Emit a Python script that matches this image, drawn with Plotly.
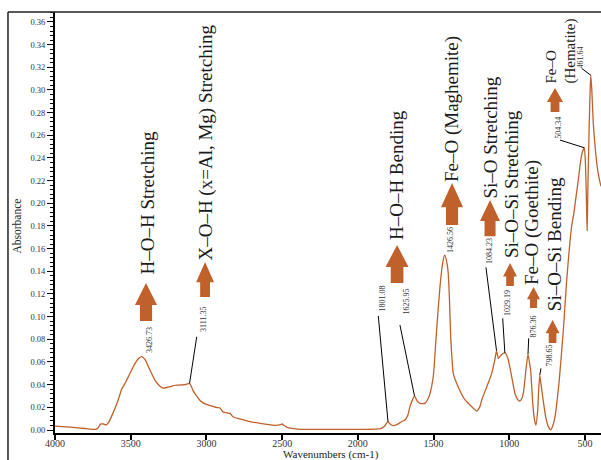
import plotly.graph_objects as go

# FTIR absorbance spectrum (wavenumber in cm-1, descending)
wavenumber = [
    4000, 3900, 3800, 3731, 3715, 3700, 3680, 3663, 3645, 3620, 3584, 3560,
    3530, 3505, 3470, 3445, 3426.73, 3405, 3373, 3340, 3310, 3287, 3260, 3240,
    3200, 3174, 3140, 3111.35, 3089, 3065, 3042, 3009, 2963, 2930, 2910, 2891,
    2860, 2844, 2825, 2780, 2712, 2646, 2600, 2547, 2515, 2501, 2485, 2468,
    2420, 2382, 2200, 2000, 1880, 1850, 1825, 1810, 1801.08, 1785, 1766, 1740,
    1711, 1689, 1670, 1656, 1638, 1625.95, 1610, 1590, 1557, 1535, 1524, 1502,
    1480, 1458, 1440, 1426.56, 1410, 1403, 1395, 1387, 1378, 1370, 1337, 1292,
    1248, 1215, 1194, 1182, 1149, 1116, 1094, 1084.23, 1072, 1055, 1029.19,
    1010, 984, 962, 945, 933, 920, 907, 890, 876.36, 865, 859, 845, 835, 824,
    812, 806, 798.65, 790, 780, 760, 742, 727, 712, 698, 670, 643, 621, 600,
    588, 575, 560, 544, 530, 518, 504.34, 497, 490, 486, 480, 472, 466, 461.64,
    455, 445, 430, 415, 400, 394,
]
absorbance = [
    0.0035, 0.0025, 0.0013, 0.0005, 0.0020, 0.0052, 0.0053, 0.0045, 0.0070,
    0.0140, 0.0260, 0.0360, 0.0430, 0.0500, 0.0590, 0.0635, 0.0647, 0.0620,
    0.0529, 0.0440, 0.0390, 0.0370, 0.0375, 0.0382, 0.0395, 0.0397, 0.0400,
    0.0412, 0.0350, 0.0300, 0.0260, 0.0230, 0.0210, 0.0198, 0.0194, 0.0160,
    0.0150, 0.0147, 0.0117, 0.0098, 0.0073, 0.0059, 0.0050, 0.0041, 0.0045,
    0.0053, 0.0038, 0.0024, 0.0012, 0.0006, 0.0005, 0.0005, 0.0007, 0.0012,
    0.0030, 0.0060, 0.0075, 0.0050, 0.0038, 0.0050, 0.0073, 0.0088, 0.0130,
    0.0206, 0.0270, 0.0300, 0.0260, 0.0235, 0.0235, 0.0280, 0.0320, 0.0470,
    0.0880, 0.1260, 0.1470, 0.1544, 0.1460, 0.1380, 0.1150, 0.0820, 0.0620,
    0.0500, 0.0380, 0.0265, 0.0206, 0.0168, 0.0206, 0.0265, 0.0380, 0.0500,
    0.0630, 0.0700, 0.0630, 0.0660, 0.0680, 0.0635, 0.0470, 0.0320, 0.0270,
    0.0256, 0.0270, 0.0326, 0.0530, 0.0670, 0.0580, 0.0530, 0.0235, 0.0100,
    0.0044, 0.0180, 0.0350, 0.0485, 0.0400, 0.0300, 0.0118, 0.0030, 0.0002,
    0.0040, 0.0118, 0.0440, 0.0880, 0.1320, 0.1650, 0.1800, 0.1900, 0.2050,
    0.2210, 0.2360, 0.2450, 0.2490, 0.2350, 0.2000, 0.1760, 0.2200, 0.2700,
    0.3000, 0.3130, 0.3000, 0.2700, 0.2450, 0.2280, 0.2180, 0.2150,
]

# Labelled peaks: label centre and leader-line start (None = no leader)
peak_wavenumbers = [3426.73, 3111.35, 1801.08, 1625.95, 1426.56, 1084.23,
                    1029.19, 876.36, 798.65, 504.34, 461.64]
peak_label_at = [(3379, 0.0794), (3023, 0.0979), (1837, 0.1156),
                 (1682, 0.1134), (1391, 0.1676), (1127, 0.1580),
                 (1012, 0.1125), (840, 0.0909), (734, 0.0653),
                 (676, 0.2669), (530.6, 0.329)]
leader_from = [None, (3064, 0.0823), (1865, 0.1006), (1722, 0.0926), None,
               (1154, 0.1435), (1043.5, 0.0985), (871.8, 0.0809),
               (790.6, 0.0544), (665, 0.2558), (521.6, 0.319)]

# Band assignments: text centre, and up-arrow (centre, tip, tail, half width)
band_names = ["H–O–H Stretching", "X–O–H (x=Al, Mg) Stretching",
              "H–O–H Bending", "Fe–O (Maghemite)", "Si–O Stretching",
              "Si–O–Si Stretching", "Fe–O (Goethite)", "Si–O–Si Bending"]
band_text_at = [(3386, 0.2007), (3003, 0.2536), (1741, 0.2250),
                (1378, 0.2832), (1121, 0.2580), (988.6, 0.2170),
                (850, 0.1835), (704.6, 0.1640)]
band_arrows = [(3399, 0.1297, 0.0962, 73), (3009, 0.1482, 0.1173, 59),
               (1741, 0.1632, 0.1297, 76), (1378, 0.2179, 0.1809, 73),
               (1127, 0.2029, 0.1710, 66), (995, 0.1473, 0.1270, 46),
               (840, 0.1262, 0.1076, 43), (714, 0.0970, 0.0768, 46)]
hematite_text = "Fe–O<br>(Hematite)"
hematite_text_at = (658, 0.3035)
hematite_arrow = (698, 0.3017, 0.2805, 53)

LINE = "#C0602A"
FONT = "Liberation Serif"


def absorbance_at(w):
    return absorbance[wavenumber.index(w)]


def up_arrow(cx, tip, tail, half):
    head = tip - 0.58 * (tip - tail)
    shaft = half * 0.55
    pts = [(cx, tip), (cx - half, head), (cx - shaft, head), (cx - shaft, tail),
           (cx + shaft, tail), (cx + shaft, head), (cx + half, head)]
    return "M " + " L ".join(f"{x},{y}" for x, y in pts) + " Z"


fig = go.Figure()
fig.add_trace(go.Scatter(
    x=wavenumber, y=absorbance, mode="lines",
    line=dict(color=LINE, width=1.3, shape="spline", smoothing=0.5),
    hoverinfo="skip", showlegend=False,
))

shapes = []
annotations = []

for w, (lx, ly), src in zip(peak_wavenumbers, peak_label_at, leader_from):
    annotations.append(dict(
        x=lx, y=ly, xref="x", yref="y", text=f"{w:.2f}", showarrow=False,
        textangle=-90, font=dict(family=FONT, size=8, color="#333"),
    ))
    if src is not None:
        shapes.append(dict(
            type="line", xref="x", yref="y", x0=src[0], y0=src[1],
            x1=w, y1=absorbance_at(w), line=dict(color="black", width=1),
        ))

for name, (tx, ty) in zip(band_names, band_text_at):
    annotations.append(dict(
        x=tx, y=ty, xref="x", yref="y", text=name, showarrow=False,
        textangle=-90, font=dict(family=FONT, size=19, color="#1a1a1a"),
    ))
annotations.append(dict(
    x=hematite_text_at[0], y=hematite_text_at[1], xref="x", yref="y",
    text=hematite_text, showarrow=False, textangle=-90, align="left",
    yanchor="bottom", font=dict(family=FONT, size=15, color="#1a1a1a"),
))

for spec in band_arrows + [hematite_arrow]:
    shapes.append(dict(
        type="path", xref="x", yref="y", path=up_arrow(*spec),
        fillcolor=LINE, line=dict(width=0),
    ))

# axis titles
annotations.append(dict(
    x=-0.0696, y=0.4929, xref="paper", yref="paper", text="Absorbance",
    xanchor="center", yanchor="middle", showarrow=False, textangle=-90,
    font=dict(family=FONT, size=11.5, color="#222"),
))
annotations.append(dict(
    x=0.5055, y=-0.0505, xref="paper", yref="paper",
    text="Wavenumbers (cm-1)", xanchor="center", yanchor="middle",
    showarrow=False, font=dict(family=FONT, size=11, color="#222"),
))

# outer frame (top and left edges)
shapes.append(dict(type="line", xref="paper", yref="paper",
                   x0=-0.0861, y0=1, x1=1, y1=1,
                   line=dict(color="#222", width=1.5)))
shapes.append(dict(type="line", xref="paper", yref="paper",
                   x0=-0.0861, y0=1, x1=-0.0861, y1=-0.07,
                   line=dict(color="#222", width=1.5)))

fig.update_layout(
    width=601, height=460,
    margin=dict(l=55, r=0, t=12, b=27),
    paper_bgcolor="white", plot_bgcolor="white",
    shapes=shapes, annotations=annotations,
    font=dict(family=FONT),
    xaxis=dict(
        range=[4000, 394.3], showgrid=False, zeroline=False,
        showline=True, linecolor="black", linewidth=2,
        ticks="outside", ticklen=5, tickwidth=1.5, tickcolor="black",
        tick0=0, dtick=500, ticklabelstandoff=-5,
        tickfont=dict(family=FONT, size=10, color="#333"),
    ),
    yaxis=dict(
        range=[-0.00265, 0.3688], showgrid=False, zeroline=False,
        showline=True, linecolor="black", linewidth=2,
        ticks="outside", ticklen=6, tickwidth=1.2, tickcolor="black",
        tick0=0, dtick=0.02, tickformat=".2f",
        tickfont=dict(family=FONT, size=8.5, color="#333"),
        minor=dict(dtick=0.004, ticks="outside", ticklen=3, tickcolor="black",
                   tickwidth=1),
    ),
)

fig.write_html("out.html")
